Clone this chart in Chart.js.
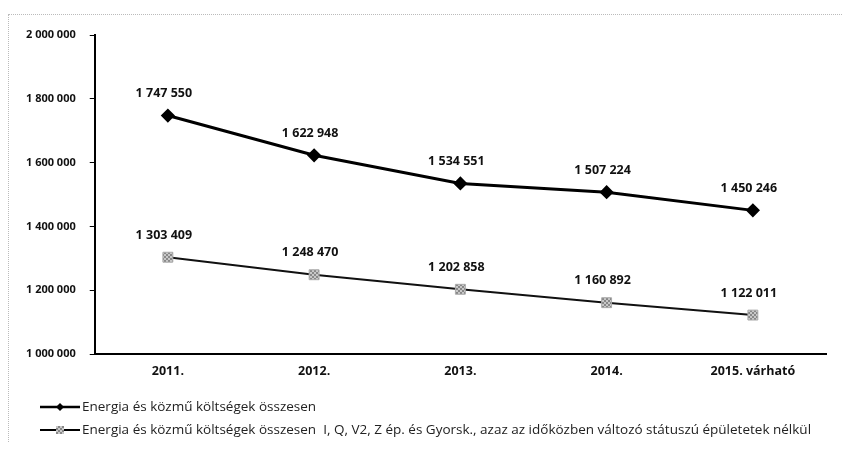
<!DOCTYPE html>
<html>
<head>
<meta charset="utf-8">
<script src="https://cdn.jsdelivr.net/npm/chart.js@4.4.0/dist/chart.umd.min.js"></script>
<style>
  html, body { margin: 0; padding: 0; background: #fff; }
  #wrap { position: relative; width: 843px; height: 450px; }
  #frame { position: absolute; left: 8px; top: 14px; width: 840px; height: 428px;
           border-left: 1px dotted #bbb; border-top: 1px dotted #bbb; box-sizing: border-box; }
  canvas { position: absolute; left: 0; top: 0; }
</style>
</head>
<body>
<div id="wrap">
  <div id="frame"></div>
  <canvas id="chart" width="843" height="450"></canvas>
</div>
<script>
const years = ['2011.', '2012.', '2013.', '2014.', '2015. várható'];
const totalCosts = [1747550, 1622948, 1534551, 1507224, 1450246];
const costsWithoutChanged = [1303409, 1248470, 1202858, 1160892, 1122011];
const seriesNames = [
    'Energia és közmű költségek összesen',
    'Energia és közmű költségek összesen  I, Q, V2, Z ép. és Gyorsk., azaz az időközben változó státuszú épületetek nélkül'
];

const fmt = (v) => String(Math.round(v)).replace(/\B(?=(\d{3})+(?!\d))/g, ' ');
const FONT = '"Open Sans", "Liberation Sans", sans-serif';

// hatched gray fill for the square markers
const hatch = (() => {
    const c = document.createElement('canvas');
    c.width = 4; c.height = 4;
    const g = c.getContext('2d');
    g.fillStyle = '#c8c8c8'; g.fillRect(0, 0, 4, 4);
    g.fillStyle = '#888'; g.fillRect(0, 0, 2, 2); g.fillRect(2, 2, 2, 2);
    return g.createPattern(c, 'repeat');
})();

// value labels above each point
const valueLabels = {
    id: 'valueLabels',
    afterDatasetsDraw(chart) {
        const ctx = chart.ctx;
        ctx.save();
        ctx.font = 'bold 12.5px ' + FONT;
        ctx.fillStyle = '#111';
        ctx.textAlign = 'center';
        ctx.textBaseline = 'middle';
        chart.data.datasets.forEach((ds, i) => {
            chart.getDatasetMeta(i).data.forEach((pt, j) => {
                ctx.fillText(fmt(ds.data[j]), pt.x - 4, pt.y - 22);
            });
        });
        ctx.restore();
    }
};

// legend drawn below the axis: line sample with marker, then text
const bottomLegend = {
    id: 'bottomLegend',
    afterDraw(chart) {
        const ctx = chart.ctx;
        const rows = [407, 430];
        ctx.save();
        chart.data.datasets.forEach((ds, i) => {
            const y = rows[i];
            ctx.strokeStyle = '#000';
            ctx.lineWidth = i === 0 ? 2.5 : 2;
            ctx.beginPath();
            ctx.moveTo(40, y); ctx.lineTo(80, y);
            ctx.stroke();
            ctx.fillStyle = ds.pointBackgroundColor;
            if (i === 0) {
                ctx.beginPath();
                ctx.moveTo(60, y - 4); ctx.lineTo(64, y); ctx.lineTo(60, y + 4); ctx.lineTo(56, y);
                ctx.closePath(); ctx.fill();
            } else {
                ctx.fillRect(56, y - 4, 8, 8);
            }
            ctx.fillStyle = '#222';
            ctx.font = '13.5px ' + FONT;
            ctx.textAlign = 'left';
            ctx.textBaseline = 'middle';
            ctx.fillText(seriesNames[i], 82, y);
        });
        ctx.restore();
    }
};

new Chart(document.getElementById('chart').getContext('2d'), {
    type: 'line',
    data: {
        labels: years,
        datasets: [
            {
                label: seriesNames[0],
                data: totalCosts,
                borderColor: '#000',
                borderWidth: 3,
                pointStyle: 'rectRot',
                pointRadius: 5,
                pointBackgroundColor: '#000',
                pointBorderColor: '#000',
                tension: 0
            },
            {
                label: seriesNames[1],
                data: costsWithoutChanged,
                borderColor: '#111',
                borderWidth: 2,
                pointStyle: 'rect',
                pointRadius: 7,
                pointBackgroundColor: hatch,
                pointBorderColor: '#aaa',
                pointBorderWidth: 1,
                tension: 0
            }
        ]
    },
    options: {
        responsive: false,
        animation: false,
        layout: { padding: { left: 12, right: 17, top: 35, bottom: 66 } },
        scales: {
            x: {
                offset: true,
                grid: { display: false, drawOnChartArea: false, drawTicks: true, tickLength: 5, tickColor: '#000', offset: true },
                border: { color: '#000', width: 2 },
                ticks: { color: '#111', font: { family: FONT, size: 12.5, weight: 'bold' }, padding: 5 }
            },
            y: {
                min: 1000000,
                max: 2000000,
                grid: { drawOnChartArea: false, tickLength: 5, tickColor: '#000' },
                border: { color: '#000', width: 2 },
                ticks: {
                    stepSize: 200000,
                    color: '#111',
                    font: { family: FONT, size: 11, weight: 'bold' },
                    padding: 14,
                    callback: (v) => fmt(v)
                }
            }
        },
        plugins: {
            legend: { display: false },
            tooltip: { enabled: false }
        }
    },
    plugins: [valueLabels, bottomLegend]
});
</script>
</body>
</html>
